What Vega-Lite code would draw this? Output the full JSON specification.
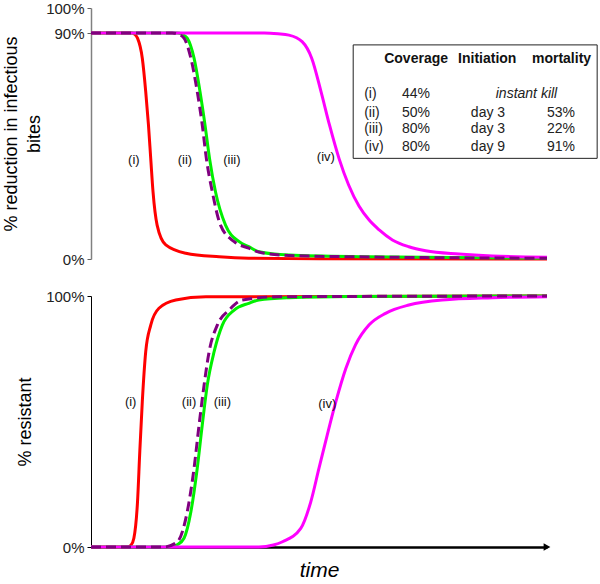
{
  "$schema": "https://vega.github.io/schema/vega-lite/v6.json",
  "padding": {"left": 2, "top": 1, "right": 2, "bottom": 5},
  "spacing": 37,
  "bounds": "flush",
  "config": {
    "font": "Liberation Sans",
    "view": {"stroke": null},
    "axis": {"grid": false, "labelFont": "Liberation Sans", "titleFont": "Liberation Sans", "titleFontWeight": "normal", "titleColor": "#000000", "labelColor": "#222222"}
  },
  "datasets": {
    "curves": [
      {"panel": "top", "s": "i", "t": 0, "v": 90}, {"panel": "top", "s": "i", "t": 9.0, "v": 90}, {"panel": "top", "s": "i", "t": 9.6, "v": 89.5}, {"panel": "top", "s": "i", "t": 10.2, "v": 88}, {"panel": "top", "s": "i", "t": 11.25, "v": 80}, {"panel": "top", "s": "i", "t": 12.0, "v": 66.7}, {"panel": "top", "s": "i", "t": 12.6, "v": 53.4}, {"panel": "top", "s": "i", "t": 13.1, "v": 40}, {"panel": "top", "s": "i", "t": 13.6, "v": 26.8}, {"panel": "top", "s": "i", "t": 14.5, "v": 13.5}, {"panel": "top", "s": "i", "t": 16.4, "v": 5.6}, {"panel": "top", "s": "i", "t": 20.8, "v": 2.3}, {"panel": "top", "s": "i", "t": 28.1, "v": 0.9}, {"panel": "top", "s": "i", "t": 34.6, "v": 0.3}, {"panel": "top", "s": "i", "t": 50, "v": 0.05}, {"panel": "top", "s": "i", "t": 100, "v": 0},
      {"panel": "top", "s": "iii", "t": 0, "v": 90}, {"panel": "top", "s": "iii", "t": 18.9, "v": 90}, {"panel": "top", "s": "iii", "t": 20.0, "v": 89.5}, {"panel": "top", "s": "iii", "t": 21.1, "v": 88}, {"panel": "top", "s": "iii", "t": 22.6, "v": 80}, {"panel": "top", "s": "iii", "t": 23.9, "v": 66.7}, {"panel": "top", "s": "iii", "t": 25.0, "v": 53.4}, {"panel": "top", "s": "iii", "t": 26.0, "v": 40}, {"panel": "top", "s": "iii", "t": 27.3, "v": 26.8}, {"panel": "top", "s": "iii", "t": 29.5, "v": 13.5}, {"panel": "top", "s": "iii", "t": 32.5, "v": 6.9}, {"panel": "top", "s": "iii", "t": 34.6, "v": 4.9}, {"panel": "top", "s": "iii", "t": 36.8, "v": 2.9}, {"panel": "top", "s": "iii", "t": 43.4, "v": 1.6}, {"panel": "top", "s": "iii", "t": 61, "v": 0.9}, {"panel": "top", "s": "iii", "t": 100, "v": 0.3},
      {"panel": "top", "s": "ii", "t": 0, "v": 90}, {"panel": "top", "s": "ii", "t": 17.8, "v": 90}, {"panel": "top", "s": "ii", "t": 19.2, "v": 89.5}, {"panel": "top", "s": "ii", "t": 20.4, "v": 88}, {"panel": "top", "s": "ii", "t": 21.9, "v": 80}, {"panel": "top", "s": "ii", "t": 23.3, "v": 66.7}, {"panel": "top", "s": "ii", "t": 24.4, "v": 53.4}, {"panel": "top", "s": "ii", "t": 25.3, "v": 40}, {"panel": "top", "s": "ii", "t": 26.6, "v": 26.8}, {"panel": "top", "s": "ii", "t": 28.4, "v": 13.5}, {"panel": "top", "s": "ii", "t": 31.4, "v": 6.9}, {"panel": "top", "s": "ii", "t": 34.6, "v": 4.3}, {"panel": "top", "s": "ii", "t": 36.8, "v": 2.8}, {"panel": "top", "s": "ii", "t": 43.4, "v": 1.4}, {"panel": "top", "s": "ii", "t": 61, "v": 0.8}, {"panel": "top", "s": "ii", "t": 100, "v": 0.3},
      {"panel": "top", "s": "iv", "t": 0, "v": 90}, {"panel": "top", "s": "iv", "t": 38, "v": 90}, {"panel": "top", "s": "iv", "t": 41, "v": 89.7}, {"panel": "top", "s": "iv", "t": 43.4, "v": 89.2}, {"panel": "top", "s": "iv", "t": 46.3, "v": 86.6}, {"panel": "top", "s": "iv", "t": 48.4, "v": 80}, {"panel": "top", "s": "iv", "t": 50.4, "v": 67}, {"panel": "top", "s": "iv", "t": 52.3, "v": 53.4}, {"panel": "top", "s": "iv", "t": 54.4, "v": 40}, {"panel": "top", "s": "iv", "t": 56.5, "v": 29.5}, {"panel": "top", "s": "iv", "t": 58.8, "v": 21}, {"panel": "top", "s": "iv", "t": 61, "v": 15.5}, {"panel": "top", "s": "iv", "t": 63.2, "v": 11.6}, {"panel": "top", "s": "iv", "t": 66.1, "v": 7.6}, {"panel": "top", "s": "iv", "t": 69.7, "v": 4.9}, {"panel": "top", "s": "iv", "t": 73.4, "v": 3.3}, {"panel": "top", "s": "iv", "t": 80.7, "v": 2.0}, {"panel": "top", "s": "iv", "t": 88, "v": 1.2}, {"panel": "top", "s": "iv", "t": 100, "v": 0.7},
      {"panel": "bottom", "s": "i", "t": 0, "v": 0}, {"panel": "bottom", "s": "i", "t": 8.0, "v": 0}, {"panel": "bottom", "s": "i", "t": 8.8, "v": 0.8}, {"panel": "bottom", "s": "i", "t": 9.4, "v": 3.5}, {"panel": "bottom", "s": "i", "t": 10.2, "v": 18}, {"panel": "bottom", "s": "i", "t": 10.7, "v": 38}, {"panel": "bottom", "s": "i", "t": 11.25, "v": 57.9}, {"panel": "bottom", "s": "i", "t": 12.0, "v": 77.8}, {"panel": "bottom", "s": "i", "t": 13.1, "v": 88.4}, {"panel": "bottom", "s": "i", "t": 14.9, "v": 95.1}, {"panel": "bottom", "s": "i", "t": 18.6, "v": 98.4}, {"panel": "bottom", "s": "i", "t": 25.2, "v": 99.7}, {"panel": "bottom", "s": "i", "t": 100, "v": 100},
      {"panel": "bottom", "s": "iii", "t": 0, "v": 0}, {"panel": "bottom", "s": "iii", "t": 17.1, "v": 0}, {"panel": "bottom", "s": "iii", "t": 19.0, "v": 1}, {"panel": "bottom", "s": "iii", "t": 20.4, "v": 3.5}, {"panel": "bottom", "s": "iii", "t": 21.9, "v": 14}, {"panel": "bottom", "s": "iii", "t": 23.3, "v": 31.4}, {"panel": "bottom", "s": "iii", "t": 24.4, "v": 48.6}, {"panel": "bottom", "s": "iii", "t": 25.5, "v": 64.5}, {"panel": "bottom", "s": "iii", "t": 27.0, "v": 77.8}, {"panel": "bottom", "s": "iii", "t": 28.8, "v": 88.4}, {"panel": "bottom", "s": "iii", "t": 31.4, "v": 94.4}, {"panel": "bottom", "s": "iii", "t": 34.6, "v": 97.1}, {"panel": "bottom", "s": "iii", "t": 36.8, "v": 98.4}, {"panel": "bottom", "s": "iii", "t": 43.4, "v": 99.3}, {"panel": "bottom", "s": "iii", "t": 56.6, "v": 99.8}, {"panel": "bottom", "s": "iii", "t": 100, "v": 100},
      {"panel": "bottom", "s": "ii", "t": 0, "v": 0}, {"panel": "bottom", "s": "ii", "t": 16.0, "v": 0}, {"panel": "bottom", "s": "ii", "t": 18.9, "v": 2}, {"panel": "bottom", "s": "ii", "t": 21.1, "v": 14}, {"panel": "bottom", "s": "ii", "t": 22.6, "v": 31.4}, {"panel": "bottom", "s": "ii", "t": 23.7, "v": 48.6}, {"panel": "bottom", "s": "ii", "t": 24.8, "v": 64.5}, {"panel": "bottom", "s": "ii", "t": 25.9, "v": 77.8}, {"panel": "bottom", "s": "ii", "t": 27.7, "v": 88.4}, {"panel": "bottom", "s": "ii", "t": 30.3, "v": 94.4}, {"panel": "bottom", "s": "ii", "t": 33.2, "v": 98.4}, {"panel": "bottom", "s": "ii", "t": 41.2, "v": 99.7}, {"panel": "bottom", "s": "ii", "t": 100, "v": 100},
      {"panel": "bottom", "s": "iv", "t": 0, "v": 0}, {"panel": "bottom", "s": "iv", "t": 36.8, "v": 0}, {"panel": "bottom", "s": "iv", "t": 40, "v": 0.8}, {"panel": "bottom", "s": "iv", "t": 42.0, "v": 2.1}, {"panel": "bottom", "s": "iv", "t": 46.0, "v": 7.4}, {"panel": "bottom", "s": "iv", "t": 48.2, "v": 18}, {"panel": "bottom", "s": "iv", "t": 50.0, "v": 31.4}, {"panel": "bottom", "s": "iv", "t": 51.8, "v": 44.6}, {"panel": "bottom", "s": "iv", "t": 53.7, "v": 57.9}, {"panel": "bottom", "s": "iv", "t": 55.9, "v": 71.2}, {"panel": "bottom", "s": "iv", "t": 58.0, "v": 80.5}, {"panel": "bottom", "s": "iv", "t": 61.0, "v": 88.5}, {"panel": "bottom", "s": "iv", "t": 64.6, "v": 93.1}, {"panel": "bottom", "s": "iv", "t": 69.7, "v": 96.4}, {"panel": "bottom", "s": "iv", "t": 77.0, "v": 98.4}, {"panel": "bottom", "s": "iv", "t": 88.0, "v": 99.3}, {"panel": "bottom", "s": "iv", "t": 100, "v": 99.7}
    ],
    "labels": [
      {"panel": "top", "label": "(i)", "t": 9.4, "v": 39.4},
      {"panel": "top", "label": "(ii)", "t": 20.6, "v": 39.4},
      {"panel": "top", "label": "(iii)", "t": 30.9, "v": 39.4},
      {"panel": "top", "label": "(iv)", "t": 51.5, "v": 40.8},
      {"panel": "bottom", "label": "(i)", "t": 8.7, "v": 57.8},
      {"panel": "bottom", "label": "(ii)", "t": 21.5, "v": 57.8},
      {"panel": "bottom", "label": "(iii)", "t": 28.8, "v": 57.8},
      {"panel": "bottom", "label": "(iv)", "t": 51.8, "v": 56.9}
    ],
    "tableBox": [{"t": 57.5, "t2": 111, "v": 85.3, "v2": 40.1}],
    "tableHeader": [
      {"text": "Coverage", "t": 64.3, "v": 79.7},
      {"text": "Initiation", "t": 80.5, "v": 79.7},
      {"text": "mortality", "t": 96.7, "v": 79.7}
    ],
    "tableBody": [
      {"text": "(i)", "t": 59.9, "v": 65.6}, {"text": "44%", "t": 68.2, "v": 65.6},
      {"text": "(ii)", "t": 59.9, "v": 58.3}, {"text": "50%", "t": 68.2, "v": 58.3}, {"text": "day 3", "t": 83.3, "v": 58.3}, {"text": "53%", "t": 100, "v": 58.3},
      {"text": "(iii)", "t": 59.9, "v": 51.7}, {"text": "80%", "t": 68.2, "v": 51.7}, {"text": "day 3", "t": 83.3, "v": 51.7}, {"text": "22%", "t": 100, "v": 51.7},
      {"text": "(iv)", "t": 59.9, "v": 44.7}, {"text": "80%", "t": 68.2, "v": 44.7}, {"text": "day 9", "t": 83.3, "v": 44.7}, {"text": "91%", "t": 100, "v": 44.7}
    ],
    "tableItalic": [{"text": "instant kill", "t": 95.5, "v": 65.6}],
    "arrow": [{"t": 100, "v": 0}]
  },
  "vconcat": [
    {
      "width": 456,
      "height": 251,
      "encoding": {
        "x": {"field": "t", "type": "quantitative", "scale": {"domain": [0, 100], "nice": false}, "axis": null},
        "y": {"field": "v", "type": "quantitative", "scale": {"domain": [0, 100], "nice": false},
          "axis": {"values": [0, 90, 100], "labelExpr": "datum.value + '%'", "title": ["% reduction in infectious", "bites"], "titleFontSize": 18, "titleLineHeight": 23, "labelFontSize": 15, "domainColor": "#808080", "domainWidth": 1.5, "tickColor": "#606060", "tickSize": 4, "labelPadding": 3, "titlePadding": 2}}
      },
      "layer": [
        {"data": {"name": "curves"}, "transform": [{"filter": "datum.panel == 'top' && datum.s == 'i'"}], "mark": {"type": "line", "color": "#FF0000", "strokeWidth": 3, "interpolate": "monotone"}},
        {"data": {"name": "curves"}, "transform": [{"filter": "datum.panel == 'top' && datum.s == 'iii'"}], "mark": {"type": "line", "color": "#00F000", "strokeWidth": 3, "interpolate": "monotone"}},
        {"data": {"name": "curves"}, "transform": [{"filter": "datum.panel == 'top' && datum.s == 'iv'"}], "mark": {"type": "line", "color": "#FF00FF", "strokeWidth": 3, "interpolate": "monotone"}},
        {"data": {"name": "curves"}, "transform": [{"filter": "datum.panel == 'top' && datum.s == 'ii'"}], "mark": {"type": "line", "color": "#800080", "strokeWidth": 3, "strokeDash": [10, 5], "interpolate": "monotone"}},
        {"data": {"name": "labels"}, "transform": [{"filter": "datum.panel == 'top'"}], "mark": {"type": "text", "fontSize": 13, "color": "#111111"}, "encoding": {"text": {"field": "label"}}},
        {"data": {"name": "tableBox"}, "mark": {"type": "rect", "fill": "#FFFFFF", "stroke": "#222222", "strokeWidth": 1}, "encoding": {"x2": {"field": "t2"}, "y2": {"field": "v2"}}},
        {"data": {"name": "tableHeader"}, "mark": {"type": "text", "fontSize": 14, "fontWeight": "bold", "align": "left", "color": "#111111"}, "encoding": {"text": {"field": "text"}}},
        {"data": {"name": "tableBody"}, "mark": {"type": "text", "fontSize": 14, "align": "left", "color": "#222222"}, "encoding": {"text": {"field": "text"}}},
        {"data": {"name": "tableItalic"}, "mark": {"type": "text", "fontSize": 14, "fontStyle": "italic", "align": "center", "color": "#222222"}, "encoding": {"text": {"field": "text"}}}
      ]
    },
    {
      "width": 456,
      "height": 251,
      "encoding": {
        "x": {"field": "t", "type": "quantitative", "scale": {"domain": [0, 100], "nice": false},
          "axis": {"title": "time", "titleFontStyle": "italic", "titleFontSize": 21, "titlePadding": 12, "labels": false, "ticks": false, "domainColor": "#000000", "domainWidth": 2.5}},
        "y": {"field": "v", "type": "quantitative", "scale": {"domain": [0, 100], "nice": false},
          "axis": {"values": [0, 100], "labelExpr": "datum.value + '%'", "title": "% resistant", "titleFontSize": 18, "labelFontSize": 15, "domainColor": "#000000", "domainWidth": 1, "tickColor": "#000000", "tickSize": 4, "labelPadding": 3, "titlePadding": 11}}
      },
      "layer": [
        {"data": {"name": "curves"}, "transform": [{"filter": "datum.panel == 'bottom' && datum.s == 'i'"}], "mark": {"type": "line", "color": "#FF0000", "strokeWidth": 3, "interpolate": "monotone"}},
        {"data": {"name": "curves"}, "transform": [{"filter": "datum.panel == 'bottom' && datum.s == 'iii'"}], "mark": {"type": "line", "color": "#00F000", "strokeWidth": 3, "interpolate": "monotone"}},
        {"data": {"name": "curves"}, "transform": [{"filter": "datum.panel == 'bottom' && datum.s == 'iv'"}], "mark": {"type": "line", "color": "#FF00FF", "strokeWidth": 3, "interpolate": "monotone"}},
        {"data": {"name": "curves"}, "transform": [{"filter": "datum.panel == 'bottom' && datum.s == 'ii'"}], "mark": {"type": "line", "color": "#800080", "strokeWidth": 3, "strokeDash": [10, 5], "interpolate": "monotone"}},
        {"data": {"name": "labels"}, "transform": [{"filter": "datum.panel == 'bottom'"}], "mark": {"type": "text", "fontSize": 13, "color": "#111111"}, "encoding": {"text": {"field": "label"}}},
        {"data": {"name": "arrow"}, "mark": {"type": "point", "shape": "triangle-right", "filled": true, "color": "#000000", "size": 60, "opacity": 1}}
      ]
    }
  ]
}
